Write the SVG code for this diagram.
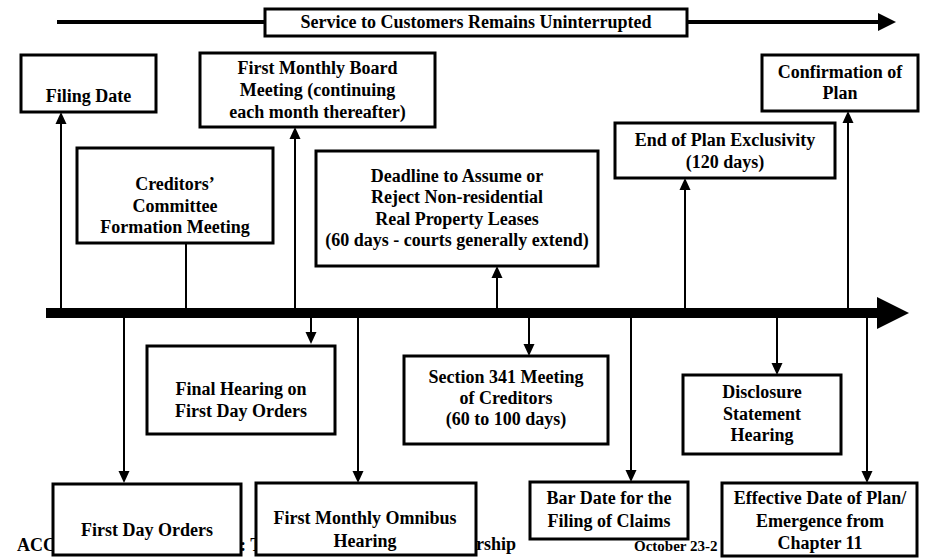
<svg xmlns="http://www.w3.org/2000/svg" width="926" height="558" viewBox="0 0 926 558">
<style>
.box{fill:#fff;stroke:#000;stroke-width:3}
.t{font-family:"Liberation Serif","Times New Roman",serif;font-weight:bold;font-size:18px;fill:#000;text-anchor:middle}
.f{font-family:"Liberation Serif","Times New Roman",serif;font-weight:bold;font-size:18px;fill:#000}
.c{stroke:#000;stroke-width:2;fill:none}
.ca{stroke:#000;stroke-width:2;fill:none;marker-end:url(#ah)}
</style>
<defs>
<marker id="ah" viewBox="0 -6 12 12" refX="0" refY="0" markerWidth="12" markerHeight="12" markerUnits="userSpaceOnUse" orient="auto">
<path d="M0,-5.5 L12,0 L0,5.5 z" fill="#000"/>
</marker>
</defs>
<rect width="926" height="558" fill="#fff"/>
<g id="footer">
<text class="f" x="17" y="551">ACC</text>
<text class="f" x="240" y="551">: T</text>
<text class="f" x="476" y="550">rship</text>
<text class="f" x="634" y="551" style="font-size:15px">October 23-2</text>
</g>
<g id="banner">
<line x1="57" y1="22" x2="879" y2="22" stroke="#000" stroke-width="4"/>
<polygon points="878,13 896,22 878,31" fill="#000"/>
<rect class="box" x="265" y="9" width="422" height="27"/>
<text class="t" x="476" y="28">Service to Customers Remains Uninterrupted</text>
</g>
<g id="timeline">
<rect x="46" y="308" width="832" height="10" fill="#000"/>
<polygon points="877,297 909,313 877,329" fill="#000"/>
</g>
<g id="connectors">
<line class="ca" x1="61" y1="308" x2="61" y2="124"/>
<line class="c" x1="186" y1="243" x2="186" y2="308"/>
<line class="ca" x1="295" y1="308" x2="295" y2="139"/>
<line class="ca" x1="497" y1="308" x2="497" y2="278"/>
<line class="ca" x1="685" y1="308" x2="685" y2="190"/>
<line class="ca" x1="848" y1="308" x2="848" y2="123"/>
<line class="ca" x1="124" y1="318" x2="124" y2="471"/>
<line class="ca" x1="311" y1="318" x2="311" y2="332"/>
<line class="ca" x1="358" y1="318" x2="358" y2="471"/>
<line class="ca" x1="529" y1="318" x2="529" y2="344"/>
<line class="ca" x1="631" y1="318" x2="631" y2="470"/>
<line class="ca" x1="777" y1="318" x2="777" y2="363"/>
<line class="ca" x1="867" y1="318" x2="867" y2="471"/>
</g>
<g id="filing-date">
<rect class="box" x="21" y="55" width="135" height="57"/>
<text class="t" x="88.5" y="102">Filing Date</text>
</g>
<g id="first-monthly-board">
<rect class="box" x="200" y="53" width="235" height="74"/>
<text class="t" x="317.5" y="74">First Monthly Board</text>
<text class="t" x="317.5" y="96">Meeting (continuing</text>
<text class="t" x="317.5" y="118">each month thereafter)</text>
</g>
<g id="creditors-committee">
<rect class="box" x="77" y="148" width="196" height="95"/>
<text class="t" x="175" y="190">Creditors’</text>
<text class="t" x="175" y="212">Committee</text>
<text class="t" x="175" y="233">Formation Meeting</text>
</g>
<g id="deadline-leases">
<rect class="box" x="316" y="151" width="282" height="115"/>
<text class="t" x="457" y="182">Deadline to Assume or</text>
<text class="t" x="457" y="203">Reject Non-residential</text>
<text class="t" x="457" y="225">Real Property Leases</text>
<text class="t" x="457" y="246">(60 days - courts generally extend)</text>
</g>
<g id="end-exclusivity">
<rect class="box" x="615" y="123" width="220" height="55"/>
<text class="t" x="725" y="146">End of Plan Exclusivity</text>
<text class="t" x="725" y="168">(120 days)</text>
</g>
<g id="confirmation">
<rect class="box" x="762" y="55" width="156" height="56"/>
<text class="t" x="840" y="78">Confirmation of</text>
<text class="t" x="840" y="99">Plan</text>
</g>
<g id="final-hearing">
<rect class="box" x="147" y="346" width="188" height="88"/>
<text class="t" x="241" y="395">Final Hearing on</text>
<text class="t" x="241" y="417">First Day Orders</text>
</g>
<g id="section-341">
<rect class="box" x="404" y="356" width="204" height="88"/>
<text class="t" x="506" y="383">Section 341 Meeting</text>
<text class="t" x="506" y="404">of Creditors</text>
<text class="t" x="506" y="425">(60 to 100 days)</text>
</g>
<g id="disclosure">
<rect class="box" x="683" y="375" width="158" height="79"/>
<text class="t" x="762" y="398">Disclosure</text>
<text class="t" x="762" y="420">Statement</text>
<text class="t" x="762" y="441">Hearing</text>
</g>
<g id="first-day-orders">
<rect class="box" x="53" y="484" width="188" height="71"/>
<text class="t" x="147" y="536">First Day Orders</text>
</g>
<g id="omnibus">
<rect class="box" x="256" y="483" width="220" height="72"/>
<text class="t" x="365" y="524">First Monthly Omnibus</text>
<text class="t" x="365" y="547">Hearing</text>
</g>
<g id="bar-date">
<rect class="box" x="530" y="482" width="158" height="57"/>
<text class="t" x="609" y="504">Bar Date for the</text>
<text class="t" x="609" y="527">Filing of Claims</text>
</g>
<g id="effective-date">
<rect class="box" x="722" y="483" width="195" height="73"/>
<text class="t" x="820" y="504">Effective Date of Plan/</text>
<text class="t" x="820" y="527">Emergence from</text>
<text class="t" x="820" y="549">Chapter 11</text>
</g>
</svg>
